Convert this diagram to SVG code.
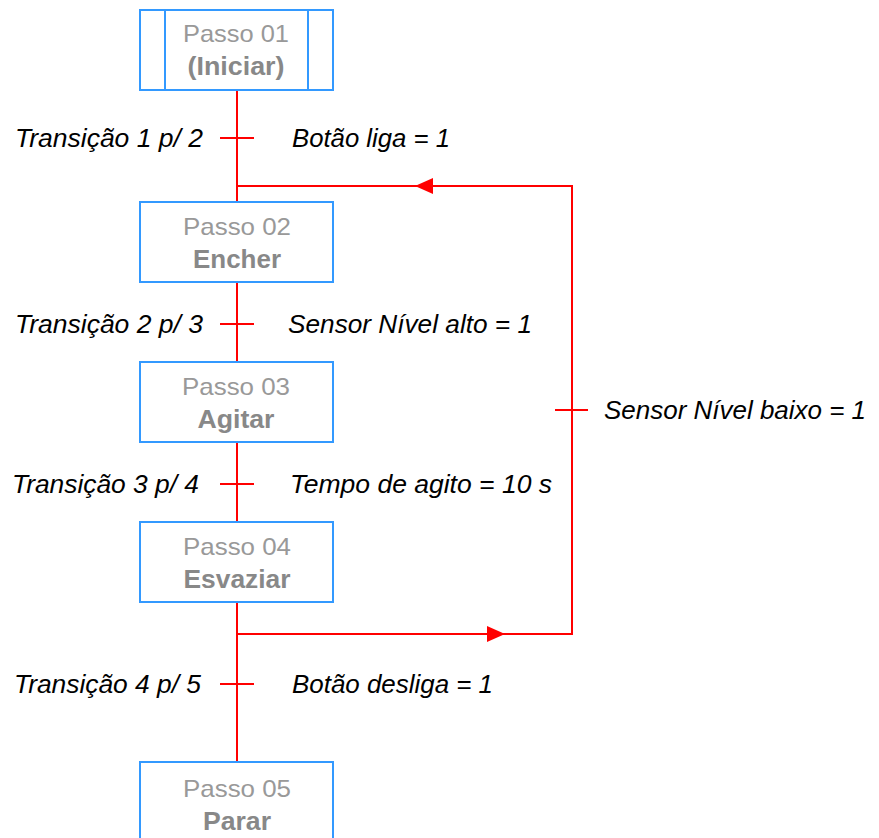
<svg xmlns="http://www.w3.org/2000/svg" width="879" height="838" viewBox="0 0 879 838">
<style>
.box{fill:#fff;stroke:#3399ff;stroke-width:2}
.t1{font-family:"Liberation Sans",Arial,sans-serif;font-size:24px;fill:#999;text-anchor:middle}
.t2{font-family:"Liberation Sans",Arial,sans-serif;font-size:25px;font-weight:bold;fill:#888;text-anchor:middle}
.lbl{font-family:"Liberation Sans",Arial,sans-serif;font-size:26px;font-style:italic;fill:#000}
.l{text-anchor:end}
.wire{stroke:#ff0000;stroke-width:2;fill:none}
.arr{fill:#ff0000}
</style>
<rect width="879" height="838" fill="#fff"/>
<g id="connectors">
<path class="wire" d="M237 90V762"/>
<path class="wire" d="M220 138H254M220 324H254M220 484H254M220 684H254M555 410H588"/>
<path class="wire" d="M237 186H572V634H237"/>
<polygon class="arr" points="415,186 433,178 433,194"/>
<polygon class="arr" points="505,634 487,626 487,642"/>
</g>
<g id="labels">
<text class="lbl l" x="203" y="147" textLength="188" lengthAdjust="spacingAndGlyphs">Transição 1 p/ 2</text>
<text class="lbl" x="292" y="147" textLength="158" lengthAdjust="spacingAndGlyphs">Botão liga = 1</text>
<text class="lbl l" x="203" y="333" textLength="188" lengthAdjust="spacingAndGlyphs">Transição 2 p/ 3</text>
<text class="lbl" x="288" y="333" textLength="244" lengthAdjust="spacingAndGlyphs">Sensor Nível alto = 1</text>
<text class="lbl l" x="199" y="493" textLength="187" lengthAdjust="spacingAndGlyphs">Transição 3 p/ 4</text>
<text class="lbl" x="290" y="493" textLength="262" lengthAdjust="spacingAndGlyphs">Tempo de agito = 10 s</text>
<text class="lbl l" x="201" y="693" textLength="187" lengthAdjust="spacingAndGlyphs">Transição 4 p/ 5</text>
<text class="lbl" x="292" y="693" textLength="201" lengthAdjust="spacingAndGlyphs">Botão desliga = 1</text>
<text class="lbl" x="604" y="419" textLength="262" lengthAdjust="spacingAndGlyphs">Sensor Nível baixo = 1</text>
</g>
<g id="step1">
<rect class="box" x="140" y="10" width="193" height="80"/>
<path class="box" d="M165 10V90M308 10V90"/>
<text class="t1" x="236" y="42" textLength="106" lengthAdjust="spacingAndGlyphs">Passo 01</text>
<text class="t2" x="236" y="75" textLength="97" lengthAdjust="spacingAndGlyphs">(Iniciar)</text>
</g>
<g id="step2">
<rect class="box" x="140" y="202" width="193" height="80"/>
<text class="t1" x="237" y="235" textLength="108" lengthAdjust="spacingAndGlyphs">Passo 02</text>
<text class="t2" x="237" y="268" textLength="88" lengthAdjust="spacingAndGlyphs">Encher</text>
</g>
<g id="step3">
<rect class="box" x="140" y="362" width="193" height="80"/>
<text class="t1" x="236" y="395" textLength="108" lengthAdjust="spacingAndGlyphs">Passo 03</text>
<text class="t2" x="236" y="428" textLength="77" lengthAdjust="spacingAndGlyphs">Agitar</text>
</g>
<g id="step4">
<rect class="box" x="140" y="522" width="193" height="80"/>
<text class="t1" x="237" y="555" textLength="108" lengthAdjust="spacingAndGlyphs">Passo 04</text>
<text class="t2" x="237" y="588" textLength="107" lengthAdjust="spacingAndGlyphs">Esvaziar</text>
</g>
<g id="step5">
<rect class="box" x="140" y="762" width="193" height="80"/>
<text class="t1" x="237" y="797" textLength="108" lengthAdjust="spacingAndGlyphs">Passo 05</text>
<text class="t2" x="237" y="830" textLength="68" lengthAdjust="spacingAndGlyphs">Parar</text>
</g>
</svg>
